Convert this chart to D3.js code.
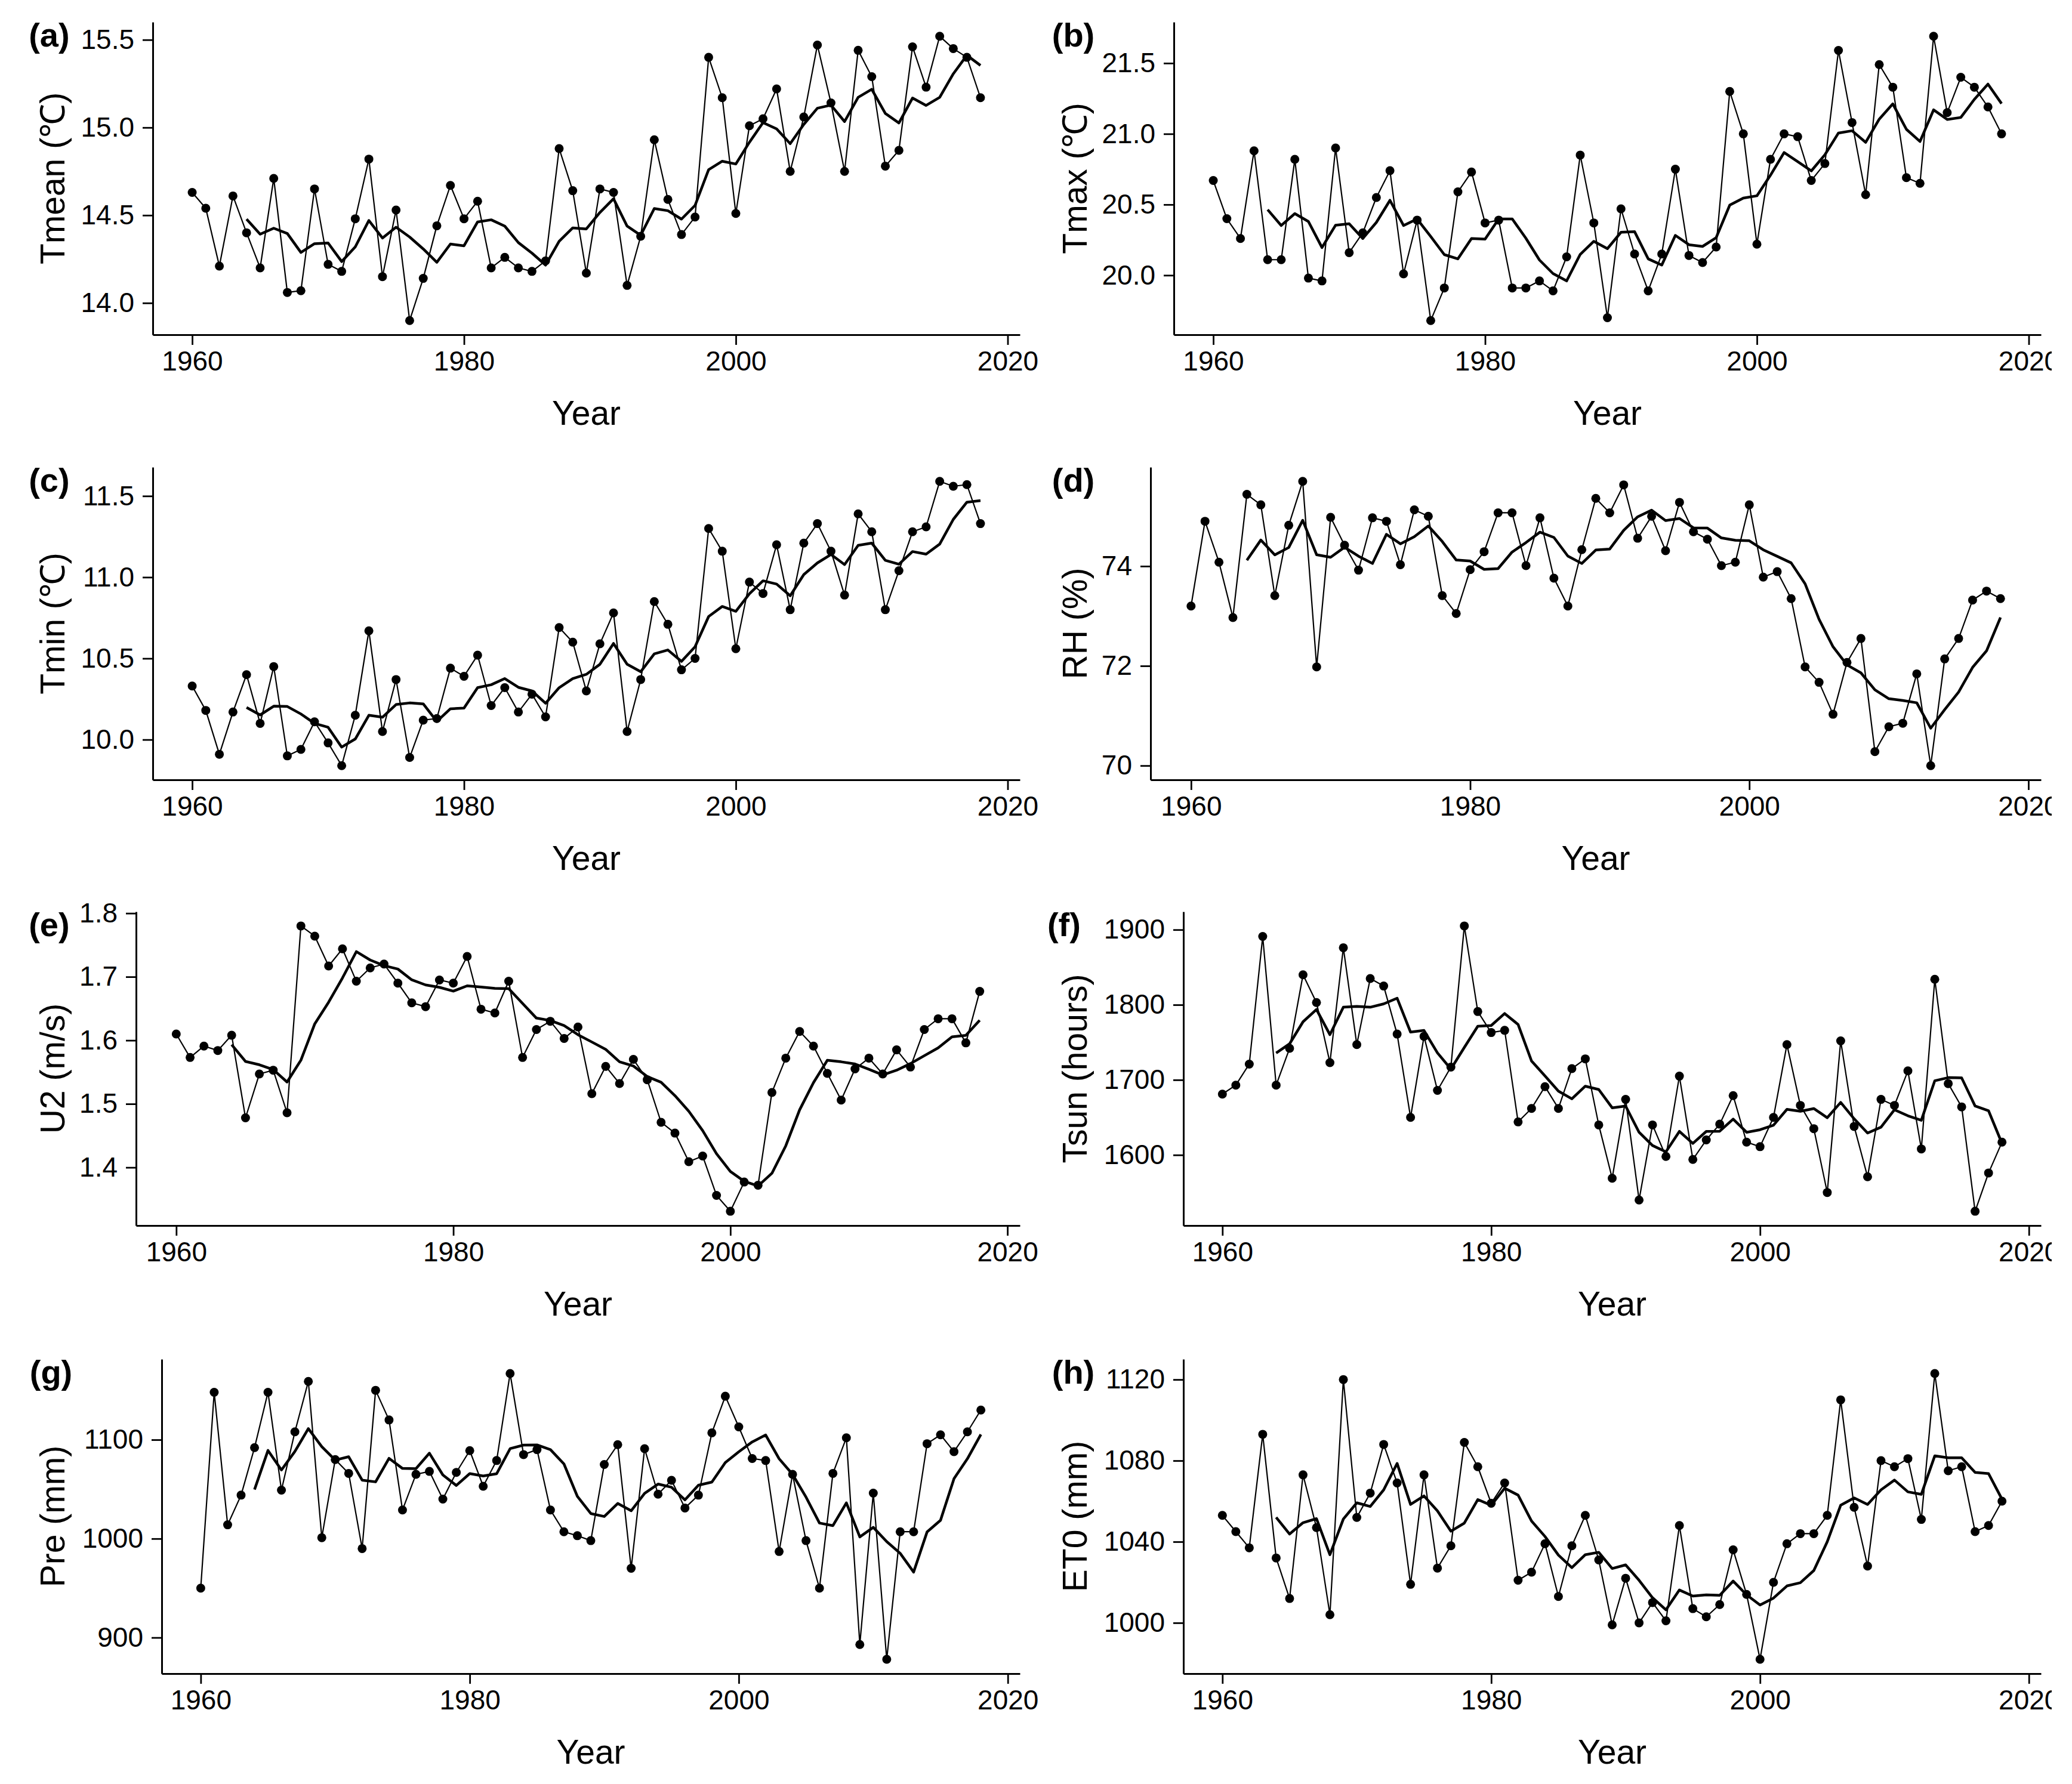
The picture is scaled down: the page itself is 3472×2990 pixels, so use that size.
<!DOCTYPE html>
<html>
<head>
<meta charset="utf-8">
<script src="https://cdn.jsdelivr.net/npm/d3@7"></script>
<style>
  body { margin: 0; background: #fff; }
  text { font-family: "Liberation Sans", Arial, sans-serif; }
</style>
</head>
<body>
<svg id="chart" width="3472" height="2990"></svg>
<script>
// annual series 1960-2018
const years = d3.range(1960, 2019);
const xTicks = [1960, 1980, 2000, 2020];

const tmean = [14.63,14.54,14.21,14.61,14.40,14.20,14.71,14.06,14.07,14.65,
  14.22,14.18,14.48,14.82,14.15,14.53,13.90,14.14,14.44,14.67,
  14.48,14.58,14.20,14.26,14.20,14.18,14.24,14.88,14.64,14.17,
  14.65,14.63,14.10,14.38,14.93,14.59,14.39,14.49,15.40,15.17,
  14.51,15.01,15.05,15.22,14.75,15.06,15.47,15.14,14.75,15.44,
  15.29,14.78,14.87,15.46,15.23,15.52,15.45,15.40,15.17];
const tmax = [20.67,20.40,20.26,20.88,20.11,20.11,20.82,19.98,19.96,20.90,
  20.16,20.30,20.55,20.74,20.01,20.39,19.68,19.91,20.59,20.73,
  20.37,20.39,19.91,19.91,19.96,19.89,20.13,20.85,20.37,19.70,
  20.47,20.15,19.89,20.15,20.75,20.14,20.09,20.20,21.30,21.00,
  20.22,20.82,21.00,20.98,20.67,20.79,21.59,21.08,20.57,21.49,
  21.33,20.69,20.65,21.69,21.15,21.40,21.33,21.19,21.00];
const tmin = [10.33,10.18,9.91,10.17,10.40,10.10,10.45,9.90,9.94,10.11,
  9.98,9.84,10.15,10.67,10.05,10.37,9.89,10.12,10.13,10.44,
  10.39,10.52,10.21,10.32,10.17,10.28,10.14,10.69,10.60,10.30,
  10.59,10.78,10.05,10.37,10.85,10.71,10.43,10.50,11.30,11.16,
  10.56,10.97,10.90,11.20,10.80,11.21,11.33,11.16,10.89,11.39,
  11.28,10.80,11.04,11.28,11.31,11.59,11.56,11.57,11.33];
const rh = [73.20,74.90,74.08,72.97,75.44,75.23,73.41,74.82,75.70,71.98,
  74.98,74.42,73.92,74.97,74.90,74.03,75.13,75.00,73.41,73.05,
  73.93,74.29,75.07,75.07,74.01,74.97,73.76,73.20,74.33,75.36,
  75.07,75.63,74.56,75.00,74.31,75.28,74.69,74.54,74.01,74.08,
  75.23,73.78,73.89,73.35,71.98,71.67,71.03,72.07,72.55,70.28,
  70.78,70.85,71.84,70.00,72.14,72.55,73.32,73.50,73.35];
const u2 = [1.610,1.573,1.591,1.584,1.608,1.478,1.547,1.553,1.486,1.780,
  1.764,1.717,1.744,1.693,1.714,1.720,1.690,1.659,1.653,1.695,
  1.690,1.732,1.649,1.643,1.693,1.573,1.617,1.630,1.603,1.621,
  1.516,1.559,1.532,1.570,1.538,1.471,1.454,1.409,1.418,1.356,
  1.331,1.377,1.372,1.518,1.572,1.614,1.591,1.548,1.506,1.555,
  1.572,1.547,1.585,1.558,1.617,1.634,1.634,1.596,1.677];
const tsun = [1681,1693,1721,1891,1693,1742,1840,1803,1723,1876,
  1747,1835,1825,1761,1650,1758,1686,1717,1905,1791,
  1763,1766,1644,1662,1691,1662,1715,1728,1640,1569,
  1674,1540,1640,1598,1705,1594,1620,1641,1679,1617,
  1611,1650,1747,1666,1635,1550,1752,1638,1571,1674,
  1666,1712,1608,1834,1695,1664,1525,1576,1617];
const pre = [950,1148,1014,1044,1092,1148,1049,1108,1159,1001,
  1080,1066,990,1150,1120,1029,1065,1068,1040,1067,
  1089,1053,1079,1167,1085,1090,1029,1007,1003,998,
  1075,1095,970,1091,1045,1059,1031,1044,1107,1144,
  1113,1081,1079,987,1065,998,950,1066,1102,893,
  1046,878,1007,1007,1096,1105,1088,1108,1130];
const et0 = [1053,1045,1037,1093,1032,1012,1073,1047,1004,1120,
  1052,1064,1088,1069,1019,1073,1027,1038,1089,1077,
  1059,1069,1021,1025,1039,1013,1038,1053,1031,999,
  1022,1000,1010,1001,1048,1007,1003,1009,1036,1014,
  982,1020,1039,1044,1044,1053,1110,1057,1028,1080,
  1077,1081,1051,1123,1075,1077,1045,1048,1060];

const panelLabels = ["(a)", "(b)", "(c)", "(d)", "(e)", "(f)", "(g)", "(h)"];
const yTitles = ["Tmean (\u2103)", "Tmax (\u2103)", "Tmin (\u2103)", "RH (%)",
  "U2 (m/s)", "Tsun (hours)", "Pre (mm)", "ET0 (mm)"];
const series = [tmean, tmax, tmin, rh, u2, tsun, pre, et0];
const yTicks = [
  [14.0, 14.5, 15.0, 15.5], [20.0, 20.5, 21.0, 21.5], [10.0, 10.5, 11.0, 11.5],
  [70, 72, 74], [1.4, 1.5, 1.6, 1.7, 1.8], [1600, 1700, 1800, 1900],
  [900, 1000, 1100], [1000, 1040, 1080, 1120]];
const yFormats = [".1f", ".1f", ".1f", "d", ".1f", "d", "d", "d"];

// layout (pixels)
const rowTop = [37, 783, 1528, 2278];
const rowBottom = [561, 1307, 2054, 2805];
const colX = [14, 1727];
const colRight = [1709, 3420];
const panelLeft = [256, 1967, 256, 1928, 228, 1983, 271, 1983];

const svg = d3.select("#chart");
svg.append("rect").attr("width", 3472).attr("height", 2990).attr("fill", "#fff");

// the right-hand plots are cut at their cell edge, so their last "2020" is cropped
svg.append("defs").append("clipPath").attr("id", "rightCell")
  .append("rect").attr("x", 1720).attr("y", 0).attr("width", 1718).attr("height", 2990);

function expand([lo, hi]) {
  const d = (hi - lo) * 0.05;
  return [lo - d, hi + d];
}

// trailing 5-year moving average, as drawn in the figure
function movingAverage(vals, k) {
  const out = [];
  for (let i = k - 1; i < vals.length; i++) {
    out.push({ year: years[i], value: d3.mean(vals.slice(i - k + 1, i + 1)) });
  }
  return out;
}

series.forEach((vals, i) => {
  const row = Math.floor(i / 2), col = i % 2;
  const top = rowTop[row], bottom = rowBottom[row];
  const left = panelLeft[i], right = colRight[col];

  const x = d3.scaleLinear().domain(expand([1960, 2018])).range([left, right]);
  const y = d3.scaleLinear().domain(expand(d3.extent(vals))).range([bottom, top]);

  const g = svg.append("g");
  if (col === 1) g.attr("clip-path", "url(#rightCell)");
  const pts = years.map((yr, j) => ({ year: yr, value: vals[j] }));

  const line = d3.line().x(d => x(d.year)).y(d => y(d.value));

  g.append("path")
    .datum(pts)
    .attr("d", line)
    .attr("fill", "none")
    .attr("stroke", "#000")
    .attr("stroke-width", 2.2)
    .attr("stroke-linejoin", "round");

  g.selectAll("circle")
    .data(pts)
    .join("circle")
    .attr("cx", d => x(d.year))
    .attr("cy", d => y(d.value))
    .attr("r", 7.5)
    .attr("fill", "#000");

  g.append("path")
    .datum(movingAverage(vals, 5))
    .attr("d", line)
    .attr("fill", "none")
    .attr("stroke", "#000")
    .attr("stroke-width", 4.5)
    .attr("stroke-linejoin", "round");

  const xAxis = g.append("g")
    .attr("transform", `translate(0,${bottom})`)
    .call(d3.axisBottom(x).tickValues(xTicks).tickFormat(d3.format("d"))
      .tickSize(17).tickPadding(10).tickSizeOuter(0));

  const yAxis = g.append("g")
    .attr("transform", `translate(${left},0)`)
    .call(d3.axisLeft(y).tickValues(yTicks[i]).tickFormat(d3.format(yFormats[i]))
      .tickSize(17).tickPadding(14).tickSizeOuter(0));

  [xAxis, yAxis].forEach(a => {
    a.attr("font-family", "Liberation Sans, Arial, sans-serif").attr("font-size", 46);
    a.select(".domain").attr("stroke-width", 3);
    a.selectAll(".tick line").attr("stroke-width", 2.8);
    a.selectAll(".tick text").attr("fill", "#000");
  });

  g.append("text")
    .attr("x", (left + right) / 2)
    .attr("y", bottom + 151)
    .attr("text-anchor", "middle")
    .attr("font-size", 57)
    .text("Year");

  g.append("text")
    .attr("transform", `translate(${colX[col] + 94},${(top + bottom) / 2}) rotate(-90)`)
    .attr("text-anchor", "middle")
    .attr("font-size", 57)
    .text(yTitles[i]);

  const lab = g.append("text")
    .attr("y", top + 41)
    .attr("font-size", 56)
    .attr("font-weight", "bold")
    .text(panelLabels[i]);
  const w = lab.node().getComputedTextLength();
  lab.attr("x", colX[col] + w / 2);
});
</script>
</body>
</html>
